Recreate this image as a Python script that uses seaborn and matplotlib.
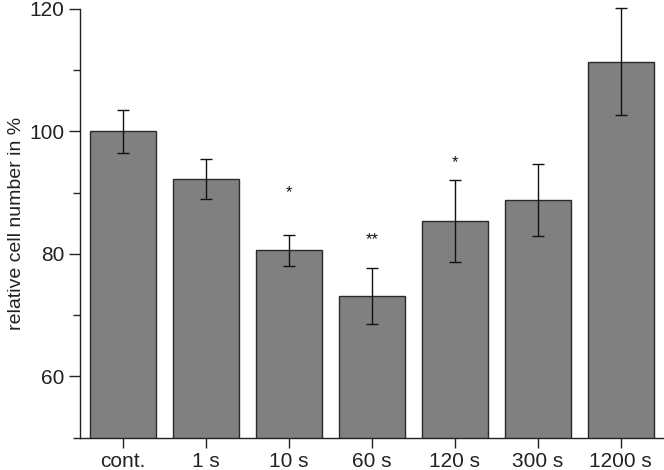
import pandas as pd
import matplotlib
matplotlib.use('Agg')
import matplotlib.pyplot as plt
import seaborn as sns
from matplotlib.ticker import MultipleLocator

# Values
groups = ['cont.', '1 s', '10 s', '60 s', '120 s', '300 s', '1200 s']
means = [100.0, 92.2, 80.6, 73.1, 85.3, 88.8, 111.4]
errors = [3.5, 3.3, 2.5, 4.6, 6.7, 5.9, 8.8]
stars = ['', '', '*', '**', '*', '', '']
star_y = [None, None, 90.0, 82.3, 94.9, None, None]

sns.set_style('ticks')
plt.rcParams['font.family'] = ['Liberation Sans', 'DejaVu Sans']

df = pd.DataFrame({'group': groups, 'mean': means})

fig = plt.figure(figsize=(6.64, 4.70), dpi=100)
ax = fig.add_axes([0.1205, 0.069, 0.8795, 0.912])

sns.barplot(data=df, x='group', y='mean', order=groups, color='#808080',
            edgecolor='#2a2a2a', linewidth=1.0, width=0.8, errorbar=None,
            saturation=1, ax=ax)
eb = ax.errorbar(range(len(groups)), means, yerr=errors, fmt='none',
                 ecolor='#111111', elinewidth=1.0, capsize=4.5, capthick=1.0)
for art in eb.lines[1] + eb.lines[2]:
    art.set_clip_on(False)

for i, (s, y) in enumerate(zip(stars, star_y)):
    if s:
        ax.text(i, y, s, ha='center', va='center', fontsize=12, color='#111111')

ax.set_xlim(-0.52, 6.52)
ax.set_ylim(50, 120)
ax.yaxis.set_major_locator(MultipleLocator(20))
ax.yaxis.set_minor_locator(MultipleLocator(10))
ax.set_yticks([60, 80, 100, 120])
ax.set_xlabel('')
ax.set_ylabel('relative cell number in %', fontsize=14, color='#222222', labelpad=3)
ax.tick_params(axis='both', which='major', labelsize=15, length=8,
               width=1.0, colors='#222222', direction='out')
ax.tick_params(axis='y', which='minor', length=5, width=1.0,
               colors='#222222', direction='out')
ax.tick_params(axis='x', which='major', length=7)
for side in ['top', 'right']:
    ax.spines[side].set_visible(False)
for side in ['left', 'bottom']:
    ax.spines[side].set_color('#222222')
    ax.spines[side].set_linewidth(1.0)

fig.savefig('out.png', dpi=100)
